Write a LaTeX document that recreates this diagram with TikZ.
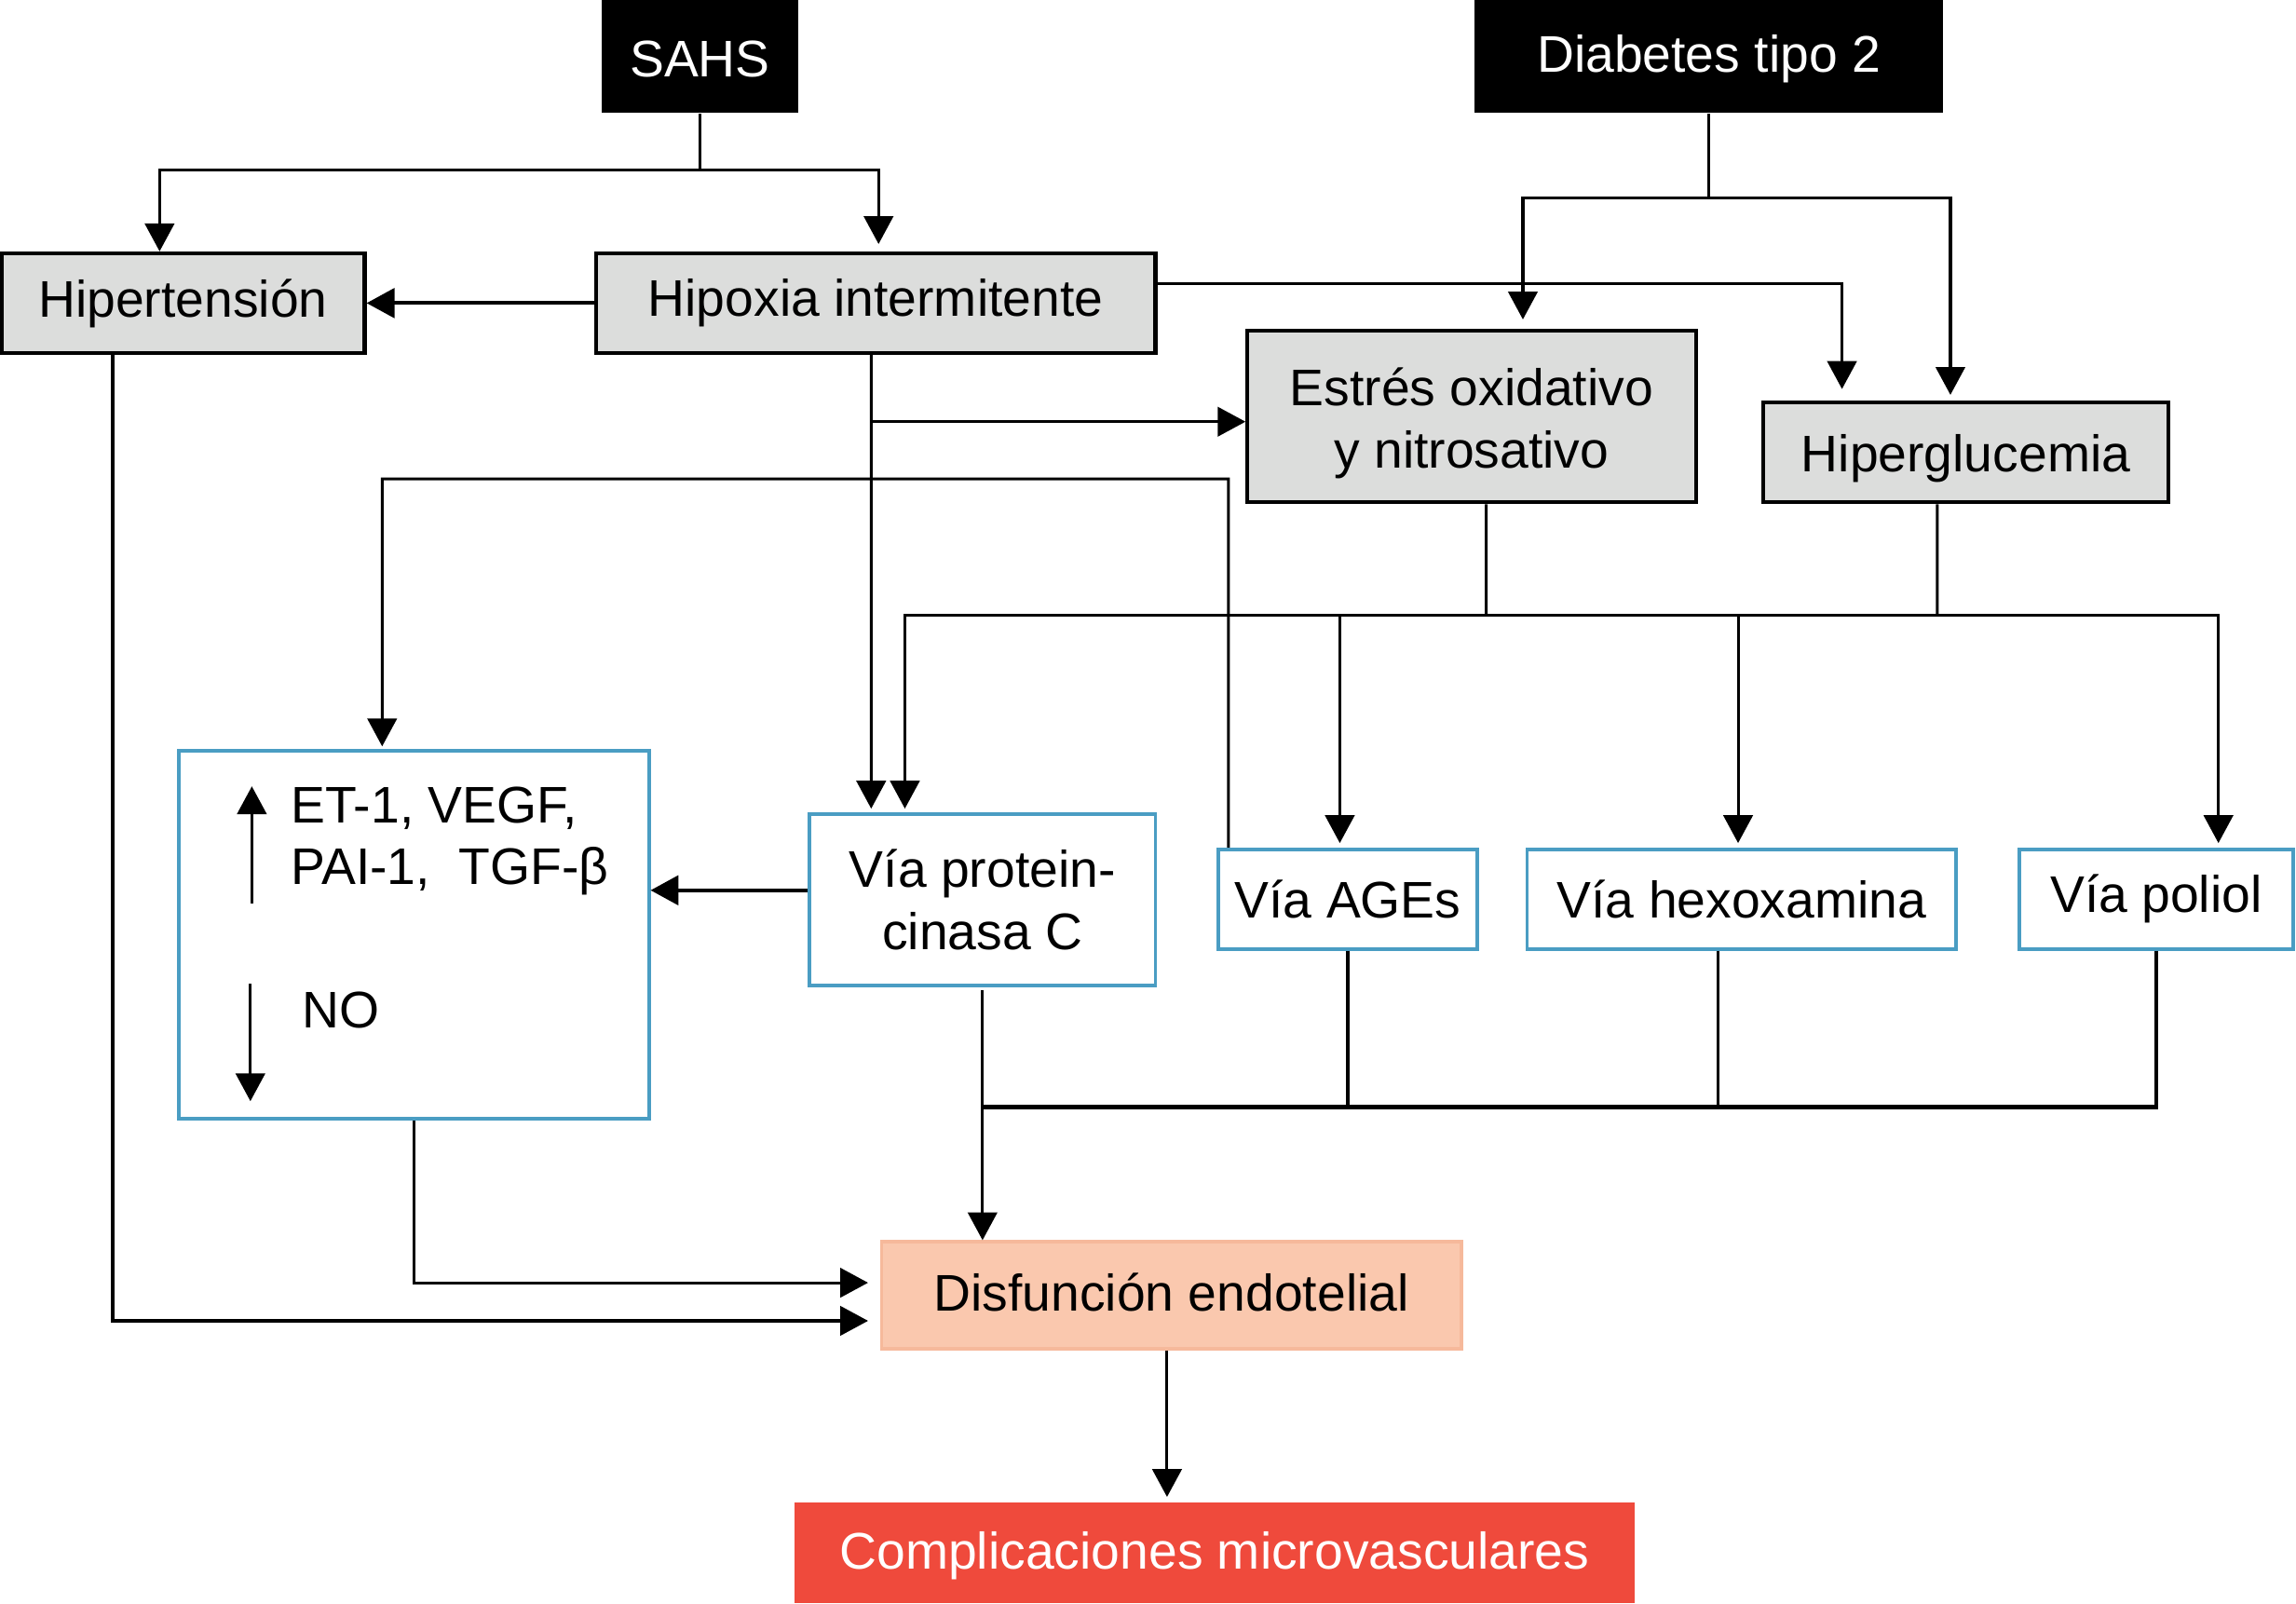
\documentclass[tikz,border=0pt]{standalone}
\usepackage{fontspec}
\setmainfont{Liberation Sans}
\usetikzlibrary{arrows.meta}
\definecolor{boxgray}{HTML}{DCDDDC}
\definecolor{boxblue}{HTML}{4A9DC3}
\definecolor{peach}{HTML}{FAC8AE}
\definecolor{peachline}{HTML}{F6B99B}
\definecolor{compred}{HTML}{EF4A3C}
\begin{document}
\begin{tikzpicture}[x=0.01cm,y=-0.01cm,
 every node/.style={font=\fontsize{10}{12.2}\selectfont, inner sep=0pt, align=center},
 blackbox/.style={fill=black, text=white},
 graybox/.style={draw=black, fill=boxgray, line width=0.75pt},
 bluebox/.style={draw=boxblue, fill=white, line width=0.7pt},
 conn/.style={line width=0.55pt},
 arr/.style={conn, -{Triangle[length=0.19cm,width=0.2cm]}},
]
\useasboundingbox (0,0) rectangle (1568,1095);

% nodes
\node[blackbox, minimum width=1.34cm, minimum height=0.77cm,
  label={[text=white, yshift=-0.02cm]center:SAHS}] (sahs) at (478,38.5) {};
\node[blackbox, minimum width=3.2cm, minimum height=0.77cm,
  label={[text=white, yshift=-0.02cm]center:Diabetes tipo 2}] (diab) at (1167,38.5) {};
\node[graybox, minimum width=2.48cm, minimum height=0.68cm] (hiper) at (125,207) {Hipertensión};
\node[graybox, minimum width=3.82cm, minimum height=0.68cm] (hipox) at (598,207) {Hipoxia intermitente};
\node[graybox, minimum width=3.06cm, minimum height=1.17cm,
  label={[yshift=-0.045cm]center:{Estrés oxidativo\\ y nitrosativo}}] (estres) at (1005,284.5) {};
\node[graybox, minimum width=2.77cm, minimum height=0.68cm,
  label={[yshift=-0.04cm]center:Hiperglucemia}] (hglu) at (1342.5,309) {};
\node[bluebox, minimum width=3.21cm, minimum height=2.51cm] (et) at (282.5,638.5) {};
\node[bluebox, minimum width=2.36cm, minimum height=1.17cm] (pkc) at (671,614.5) {Vía protein-\\cinasa C};
\node[bluebox, minimum width=1.77cm, minimum height=0.68cm] (ages) at (920.5,614) {Vía AGEs};
\node[bluebox, minimum width=2.93cm, minimum height=0.68cm] (hexo) at (1189.5,614) {Vía hexoxamina};
\node[bluebox, minimum width=1.87cm, minimum height=0.68cm] (poliol) at (1472.5,614) {Vía poliol};
\node[draw=peachline, fill=peach, line width=0.6pt, minimum width=3.96cm, minimum height=0.73cm,
  label={[yshift=0.02cm]center:Disfunción endotelial}] (disf) at (800,884.5) {};
\node[fill=compred, minimum width=5.73cm, minimum height=0.69cm,
  label={[text=white, yshift=-0.02cm]center:Complicaciones microvasculares}] (comp) at (829.5,1060.5) {};

% text inside ET box
\node[anchor=base west] (etA) at (198,562) {ET-1, VEGF,};
\node[anchor=base west] (etB) at (198,604) {PAI-1,\ \ TGF-β};
\node[anchor=base west] (etNO) at (205.6,702) {NO};
\coordinate (u1) at (172,617); \coordinate (u2) at (172,537);
\draw[arr] (u1) -- (u2);
\coordinate (d1) at (171,672); \coordinate (d2) at (171,752);
\draw[arr] (d1) -- (d2);

% connectors
\coordinate (j1) at (478,116);
\draw[conn] (sahs.south) -- (j1);
\draw[arr] (j1) -| ([xshift=-0.16cm]hiper.north);
\draw[arr] (j1) -| ([xshift=0.02cm,yshift=0.05cm]hipox.north);
\draw[arr, line width=0.75pt] (hipox.west) -- (hiper.east);

\coordinate (j2) at (1167,135);
\draw[conn] (diab.south) -- (j2);
\draw[arr] (j2) -| ([xshift=0.35cm,yshift=0.065cm]estres.north);
\draw[arr] (j2) -| ([xshift=-0.105cm,yshift=0.04cm]hglu.north);
\draw[arr] ([yshift=0.13cm]hipox.east) -| ([xshift=-0.845cm,yshift=0.08cm]hglu.north);

\draw[arr] ([xshift=-0.03cm]hipox.south) -- ([xshift=-0.76cm,yshift=0.025cm]pkc.north);
\coordinate (j3) at (595,288);
\draw[arr] (j3) -- (estres.west |- j3);

\coordinate (c1) at (261,327);
\draw[arr] ([xshift=-0.815cm]ages.north) |- (c1) -- ([xshift=-0.215cm,yshift=0.02cm]et.north);

\coordinate (j4) at (1015,420);
\coordinate (j5) at (1323,420);
\draw[conn] ([xshift=0.1cm]estres.south) -- (j4);
\draw[conn] ([xshift=-0.195cm]hglu.south) -- (j5);
\draw[conn] (j4) -- (j5);
\draw[arr] (j4) -| ([xshift=-0.53cm,yshift=0.025cm]pkc.north);
\draw[arr] (j5) -| ([xshift=0.425cm,yshift=0.03cm]poliol.north);
\coordinate (t1) at (915,420);
\coordinate (t2) at (1187,420);
\draw[arr, shorten >=0.03cm] (t1) -- (t1 |- ages.north);
\draw[arr, shorten >=0.03cm] (t2) -- (t2 |- hexo.north);

\draw[arr] ([yshift=-0.02cm]pkc.south) -- (pkc.south |- disf.north);
\coordinate (j6) at (671,756);
\draw[conn, line width=0.75pt] (ages.south) |- (j6);
\draw[conn, line width=0.75pt] (poliol.south) |- (j6);
\coordinate (hb) at ([xshift=-0.165cm]hexo.south);
\draw[conn] (hb) -- (hb |- j6);

\coordinate (hb2) at ([xshift=-0.48cm]hiper.south);
\draw[arr, shorten >=0.08cm] (hb2) |- ([yshift=-0.175cm]disf.west);
\draw[arr, shorten >=0.08cm] (et.south) |- ([yshift=0.085cm]disf.west);
\coordinate (pw) at ([yshift=0.065cm]pkc.west);
\draw[arr, line width=0.75pt] (pw) -- (pw -| et.east);
\coordinate (db) at ([xshift=-0.03cm]disf.south);
\draw[arr, shorten >=0.03cm] (db) -- (db |- comp.north);
\end{tikzpicture}
\end{document}
